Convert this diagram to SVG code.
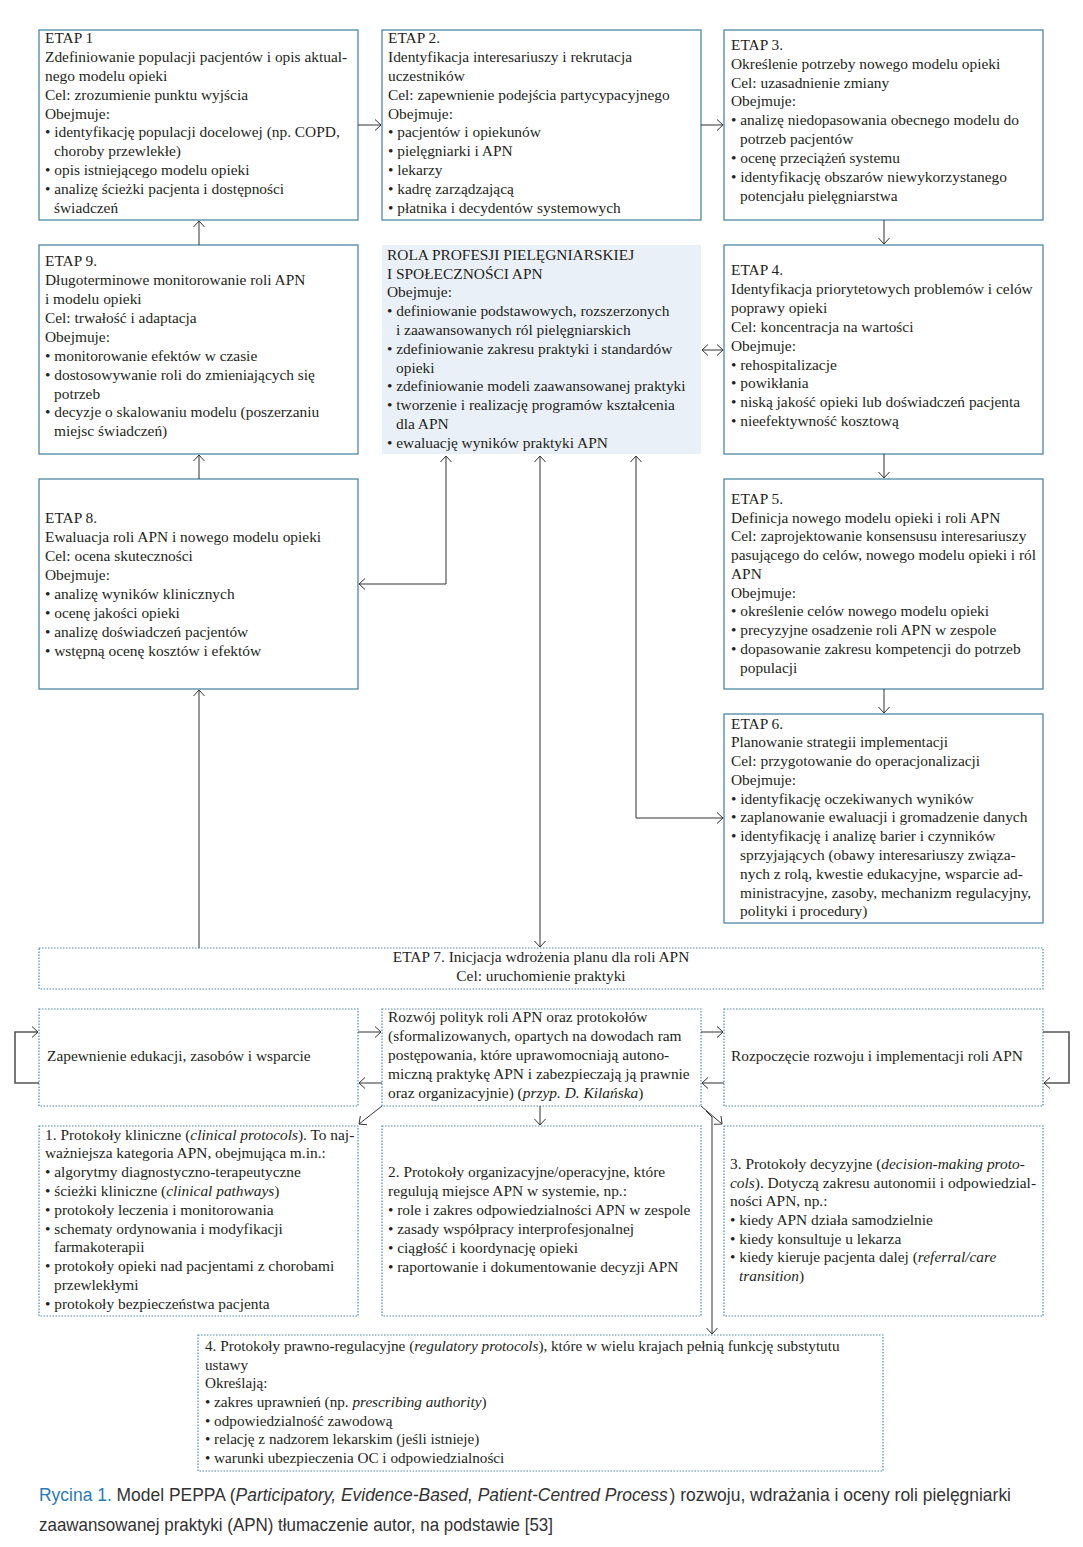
<svg xmlns="http://www.w3.org/2000/svg" width="1083" height="1547" viewBox="0 0 1083 1547">
<style>
.t{font-family:"Liberation Serif","DejaVu Serif",serif;font-size:15.4px;fill:#231f20}
.s{font-size:15.2px}
.box{fill:#fff;stroke:#4d87a6;stroke-width:1.3}
.dbox{fill:#fff;stroke:#4d87a6;stroke-width:1.2;stroke-dasharray:1.5 1.5}
.role{fill:#e9f0f7}
.c{fill:none;stroke:#333;stroke-width:1}
.lp{fill:none;stroke:#555;stroke-width:1.6}
.cap{font-family:"Liberation Sans Narrow","Liberation Sans",sans-serif;font-size:19px;fill:#333}
.blue{fill:#2a7ab5}
</style>
<defs>
<marker id="a" viewBox="0 0 7 12" refX="6.5" refY="6" markerWidth="7" markerHeight="12" markerUnits="userSpaceOnUse" orient="auto-start-reverse">
<path d="M0.5,0.5 L6.5,6 L0.5,11.5" fill="none" stroke="#333" stroke-width="1"/>
</marker>
</defs>
<rect width="1083" height="1547" fill="#fff"/>

<g id="etap1">
<rect class="box" x="39" y="30" width="319" height="190"/>
<text class="t"><tspan x="45" y="43">ETAP 1</tspan><tspan x="45" y="62">Zdefiniowanie populacji pacjentów i opis aktual-</tspan><tspan x="45" y="80.5">nego modelu opieki</tspan><tspan x="45" y="99.5">Cel: zrozumienie punktu wyjścia</tspan><tspan x="45" y="118.5">Obejmuje:</tspan><tspan x="45" y="137">• identyfikację populacji docelowej (np. COPD,</tspan><tspan x="54" y="156">choroby przewlekłe)</tspan><tspan x="45" y="175">• opis istniejącego modelu opieki</tspan><tspan x="45" y="194">• analizę ścieżki pacjenta i dostępności</tspan><tspan x="54" y="213">świadczeń</tspan></text>
</g>

<g id="etap2">
<rect class="box" x="382" y="30" width="319" height="190"/>
<text class="t"><tspan x="388" y="43">ETAP 2.</tspan><tspan x="388" y="62">Identyfikacja interesariuszy i rekrutacja</tspan><tspan x="388" y="80.5">uczestników</tspan><tspan x="388" y="99.5">Cel: zapewnienie podejścia partycypacyjnego</tspan><tspan x="388" y="118.5">Obejmuje:</tspan><tspan x="388" y="137">• pacjentów i opiekunów</tspan><tspan x="388" y="156">• pielęgniarki i APN</tspan><tspan x="388" y="175">• lekarzy</tspan><tspan x="388" y="194">• kadrę zarządzającą</tspan><tspan x="388" y="213">• płatnika i decydentów systemowych</tspan></text>
</g>

<g id="etap3">
<rect class="box" x="724" y="30" width="319" height="190"/>
<text class="t"><tspan x="731" y="49.5">ETAP 3.</tspan><tspan x="731" y="68.5">Określenie potrzeby nowego modelu opieki</tspan><tspan x="731" y="87.5">Cel: uzasadnienie zmiany</tspan><tspan x="731" y="106">Obejmuje:</tspan><tspan x="731" y="125">• analizę niedopasowania obecnego modelu do</tspan><tspan x="740" y="144">potrzeb pacjentów</tspan><tspan x="731" y="163">• ocenę przeciążeń systemu</tspan><tspan x="731" y="182">• identyfikację obszarów niewykorzystanego</tspan><tspan x="740" y="200.5">potencjału pielęgniarstwa</tspan></text>
</g>

<g id="etap9">
<rect class="box" x="39" y="245" width="319" height="209"/>
<text class="t"><tspan x="45" y="266">ETAP 9.</tspan><tspan x="45" y="285">Długoterminowe monitorowanie roli APN</tspan><tspan x="45" y="304">i modelu opieki</tspan><tspan x="45" y="322.5">Cel: trwałość i adaptacja</tspan><tspan x="45" y="341.5">Obejmuje:</tspan><tspan x="45" y="360.5">• monitorowanie efektów w czasie</tspan><tspan x="45" y="379.5">• dostosowywanie roli do zmieniających się</tspan><tspan x="54" y="398.5">potrzeb</tspan><tspan x="45" y="417">• decyzje o skalowaniu modelu (poszerzaniu</tspan><tspan x="54" y="436">miejsc świadczeń)</tspan></text>
</g>

<g id="rola">
<rect class="role" x="382" y="245" width="319" height="209"/>
<text class="t"><tspan x="387" y="260">ROLA PROFESJI PIELĘGNIARSKIEJ</tspan><tspan x="387" y="278.5">I SPOŁECZNOŚCI APN</tspan><tspan x="387" y="297">Obejmuje:</tspan><tspan x="387" y="316">• definiowanie podstawowych, rozszerzonych</tspan><tspan x="396" y="334.5">i zaawansowanych ról pielęgniarskich</tspan><tspan x="387" y="353.5">• zdefiniowanie zakresu praktyki i standardów</tspan><tspan x="396" y="372.5">opieki</tspan><tspan x="387" y="391">• zdefiniowanie modeli zaawansowanej praktyki</tspan><tspan x="387" y="410">• tworzenie i realizację programów kształcenia</tspan><tspan x="396" y="429">dla APN</tspan><tspan x="387" y="448">• ewaluację wyników praktyki APN</tspan></text>
</g>

<g id="etap4">
<rect class="box" x="724" y="245" width="319" height="209"/>
<text class="t"><tspan x="731" y="275">ETAP 4.</tspan><tspan x="731" y="294">Identyfikacja priorytetowych problemów i celów</tspan><tspan x="731" y="312.5">poprawy opieki</tspan><tspan x="731" y="331.5">Cel: koncentracja na wartości</tspan><tspan x="731" y="350.5">Obejmuje:</tspan><tspan x="731" y="369.5">• rehospitalizacje</tspan><tspan x="731" y="388">• powikłania</tspan><tspan x="731" y="407">• niską jakość opieki lub doświadczeń pacjenta</tspan><tspan x="731" y="426">• nieefektywność kosztową</tspan></text>
</g>

<g id="etap8">
<rect class="box" x="39" y="479" width="319" height="210"/>
<text class="t"><tspan x="45" y="523">ETAP 8.</tspan><tspan x="45" y="542">Ewaluacja roli APN i nowego modelu opieki</tspan><tspan x="45" y="561">Cel: ocena skuteczności</tspan><tspan x="45" y="580">Obejmuje:</tspan><tspan x="45" y="599">• analizę wyników klinicznych</tspan><tspan x="45" y="617.5">• ocenę jakości opieki</tspan><tspan x="45" y="636.5">• analizę doświadczeń pacjentów</tspan><tspan x="45" y="655.5">• wstępną ocenę kosztów i efektów</tspan></text>
</g>

<g id="etap5">
<rect class="box" x="724" y="479" width="319" height="210"/>
<text class="t"><tspan x="731" y="503.5">ETAP 5.</tspan><tspan x="731" y="522.5">Definicja nowego modelu opieki i roli APN</tspan><tspan x="731" y="541">Cel: zaprojektowanie konsensusu interesariuszy</tspan><tspan x="731" y="560">pasującego do celów, nowego modelu opieki i ról</tspan><tspan x="731" y="578.5">APN</tspan><tspan x="731" y="597.5">Obejmuje:</tspan><tspan x="731" y="616">• określenie celów nowego modelu opieki</tspan><tspan x="731" y="635">• precyzyjne osadzenie roli APN w zespole</tspan><tspan x="731" y="654">• dopasowanie zakresu kompetencji do potrzeb</tspan><tspan x="740" y="672.5">populacji</tspan></text>
</g>

<g id="etap6">
<rect class="box" x="724" y="714" width="319" height="209"/>
<text class="t"><tspan x="731" y="728.5">ETAP 6.</tspan><tspan x="731" y="747">Planowanie strategii implementacji</tspan><tspan x="731" y="766">Cel: przygotowanie do operacjonalizacji</tspan><tspan x="731" y="784.5">Obejmuje:</tspan><tspan x="731" y="803.5">• identyfikację oczekiwanych wyników</tspan><tspan x="731" y="822">• zaplanowanie ewaluacji i gromadzenie danych</tspan><tspan x="731" y="841">• identyfikację i analizę barier i czynników</tspan><tspan x="740" y="859.5">sprzyjających (obawy interesariuszy związa-</tspan><tspan x="740" y="878.5">nych z rolą, kwestie edukacyjne, wsparcie ad-</tspan><tspan x="740" y="897.5">ministracyjne, zasoby, mechanizm regulacyjny,</tspan><tspan x="740" y="916">polityki i procedury)</tspan></text>
</g>

<g id="etap7">
<rect class="dbox" x="39" y="948" width="1004" height="41"/>
<text class="t" text-anchor="middle"><tspan x="541" y="962">ETAP 7. Inicjacja wdrożenia planu dla roli APN</tspan><tspan x="541" y="981">Cel: uruchomienie praktyki</tspan></text>
</g>

<g id="edukacja">
<rect class="dbox" x="39" y="1009" width="319" height="97"/>
<text class="t" x="47" y="1061">Zapewnienie edukacji, zasobów i wsparcie</text>
</g>

<g id="polityki">
<rect class="dbox" x="382" y="1009" width="319" height="97"/>
<text class="t"><tspan x="388" y="1022">Rozwój polityk roli APN oraz protokołów</tspan><tspan x="388" y="1041">(sformalizowanych, opartych na dowodach ram</tspan><tspan x="388" y="1060">postępowania, które uprawomocniają autono-</tspan><tspan x="388" y="1079">miczną praktykę APN i zabezpieczają ją prawnie</tspan><tspan x="388" y="1098">oraz organizacyjnie) (<tspan font-style="italic">przyp. D. Kilańska</tspan>)</tspan></text>
</g>

<g id="rozpoczecie">
<rect class="dbox" x="724" y="1009" width="319" height="97"/>
<text class="t" x="731" y="1061">Rozpoczęcie rozwoju i implementacji roli APN</text>
</g>

<g id="prot1">
<rect class="dbox" x="39" y="1126" width="319" height="190"/>
<text class="t"><tspan x="45" y="1139.5">1. Protokoły kliniczne (<tspan font-style="italic">clinical protocols</tspan>). To naj-</tspan><tspan x="45" y="1158.3">ważniejsza kategoria APN, obejmująca m.in.:</tspan><tspan x="45" y="1177.1">• algorytmy diagnostyczno-terapeutyczne</tspan><tspan x="45" y="1195.9">• ścieżki kliniczne (<tspan font-style="italic">clinical pathways</tspan>)</tspan><tspan x="45" y="1214.7">• protokoły leczenia i monitorowania</tspan><tspan x="45" y="1233.5">• schematy ordynowania i modyfikacji</tspan><tspan x="54" y="1252.3">farmakoterapii</tspan><tspan x="45" y="1271.1">• protokoły opieki nad pacjentami z chorobami</tspan><tspan x="54" y="1289.9">przewlekłymi</tspan><tspan x="45" y="1308.7">• protokoły bezpieczeństwa pacjenta</tspan></text>
</g>

<g id="prot2">
<rect class="dbox" x="382" y="1126" width="319" height="190"/>
<text class="t"><tspan x="388" y="1177">2. Protokoły organizacyjne/operacyjne, które</tspan><tspan x="388" y="1196">regulują miejsce APN w systemie, np.:</tspan><tspan x="388" y="1215">• role i zakres odpowiedzialności APN w zespole</tspan><tspan x="388" y="1234">• zasady współpracy interprofesjonalnej</tspan><tspan x="388" y="1252.5">• ciągłość i koordynację opieki</tspan><tspan x="388" y="1271.5">• raportowanie i dokumentowanie decyzji APN</tspan></text>
</g>

<g id="prot3">
<rect class="dbox" x="724" y="1126" width="319" height="190"/>
<text class="t"><tspan x="730" y="1169">3. Protokoły decyzyjne (<tspan font-style="italic">decision-making proto-</tspan></tspan><tspan x="730" y="1188"><tspan font-style="italic">cols</tspan>). Dotyczą zakresu autonomii i odpowiedzial-</tspan><tspan x="730" y="1206">ności APN, np.:</tspan><tspan x="730" y="1225">• kiedy APN działa samodzielnie</tspan><tspan x="730" y="1243.5">• kiedy konsultuje u lekarza</tspan><tspan x="730" y="1262">• kiedy kieruje pacjenta dalej (<tspan font-style="italic">referral/care</tspan></tspan><tspan x="739" y="1281" font-style="italic">transition<tspan font-style="normal">)</tspan></tspan></text>
</g>

<g id="prot4">
<rect class="dbox" x="198" y="1335" width="685" height="136"/>
<text class="t s"><tspan x="205" y="1351">4. Protokoły prawno-regulacyjne (<tspan font-style="italic">regulatory protocols</tspan>), które w wielu krajach pełnią funkcję substytutu</tspan><tspan x="205" y="1369.5">ustawy</tspan><tspan x="205" y="1388">Określają:</tspan><tspan x="205" y="1407">• zakres uprawnień (np. <tspan font-style="italic">prescribing authority</tspan>)</tspan><tspan x="205" y="1425.5">• odpowiedzialność zawodową</tspan><tspan x="205" y="1444">• relację z nadzorem lekarskim (jeśli istnieje)</tspan><tspan x="205" y="1463">• warunki ubezpieczenia OC i odpowiedzialności</tspan></text>
</g>

<g id="connectors">
<path class="c" d="M358,125 H381" marker-end="url(#a)"/>
<path class="c" d="M701,125 H723" marker-end="url(#a)"/>
<path class="c" d="M884,220 V244" marker-end="url(#a)"/>
<path class="c" d="M884,454 V478" marker-end="url(#a)"/>
<path class="c" d="M884,689 V713" marker-end="url(#a)"/>
<path class="c" d="M199,245 V221" marker-end="url(#a)"/>
<path class="c" d="M199,479 V455" marker-end="url(#a)"/>
<path class="c" d="M199,948 V690" marker-end="url(#a)"/>
<path class="c" d="M702,350 H723" marker-start="url(#a)" marker-end="url(#a)"/>
<path class="c" d="M446,456 V584 H359" marker-start="url(#a)" marker-end="url(#a)"/>
<path class="c" d="M540,456 V947" marker-start="url(#a)" marker-end="url(#a)"/>
<path class="c" d="M636,456 V818 H723" marker-start="url(#a)" marker-end="url(#a)"/>
<path class="c" d="M358,1032 H381" marker-end="url(#a)"/>
<path class="c" d="M382,1083 H359" marker-end="url(#a)"/>
<path class="c" d="M701,1032 H723" marker-end="url(#a)"/>
<path class="c" d="M724,1083 H702" marker-end="url(#a)"/>
<path class="lp" d="M39,1083 H15 V1032 H38" marker-end="url(#a)"/>
<path class="lp" d="M1043,1032 H1069 V1083 H1044" marker-end="url(#a)"/>
<path class="c" d="M382,1106 L359,1124" marker-end="url(#a)"/>
<path class="c" d="M540,1106 V1125" marker-end="url(#a)"/>
<path class="c" d="M701,1106 L722,1124" marker-end="url(#a)"/>
<path class="c" d="M706,1111 L712,1117 V1334" marker-end="url(#a)"/>
</g>

<g id="caption">
<text class="cap" x="39" y="1501" textLength="972" lengthAdjust="spacingAndGlyphs"><tspan class="blue">Rycina 1.</tspan> Model PEPPA (<tspan font-style="italic">Participatory, Evidence-Based, Patient-Centred Process</tspan><tspan dx="2">) rozwoju, wdrażania i oceny roli pielęgniarki</tspan></text>
<text class="cap" x="39" y="1531" textLength="514" lengthAdjust="spacingAndGlyphs">zaawansowanej praktyki (APN) tłumaczenie autor, na podstawie [53]</text>
</g>
</svg>
